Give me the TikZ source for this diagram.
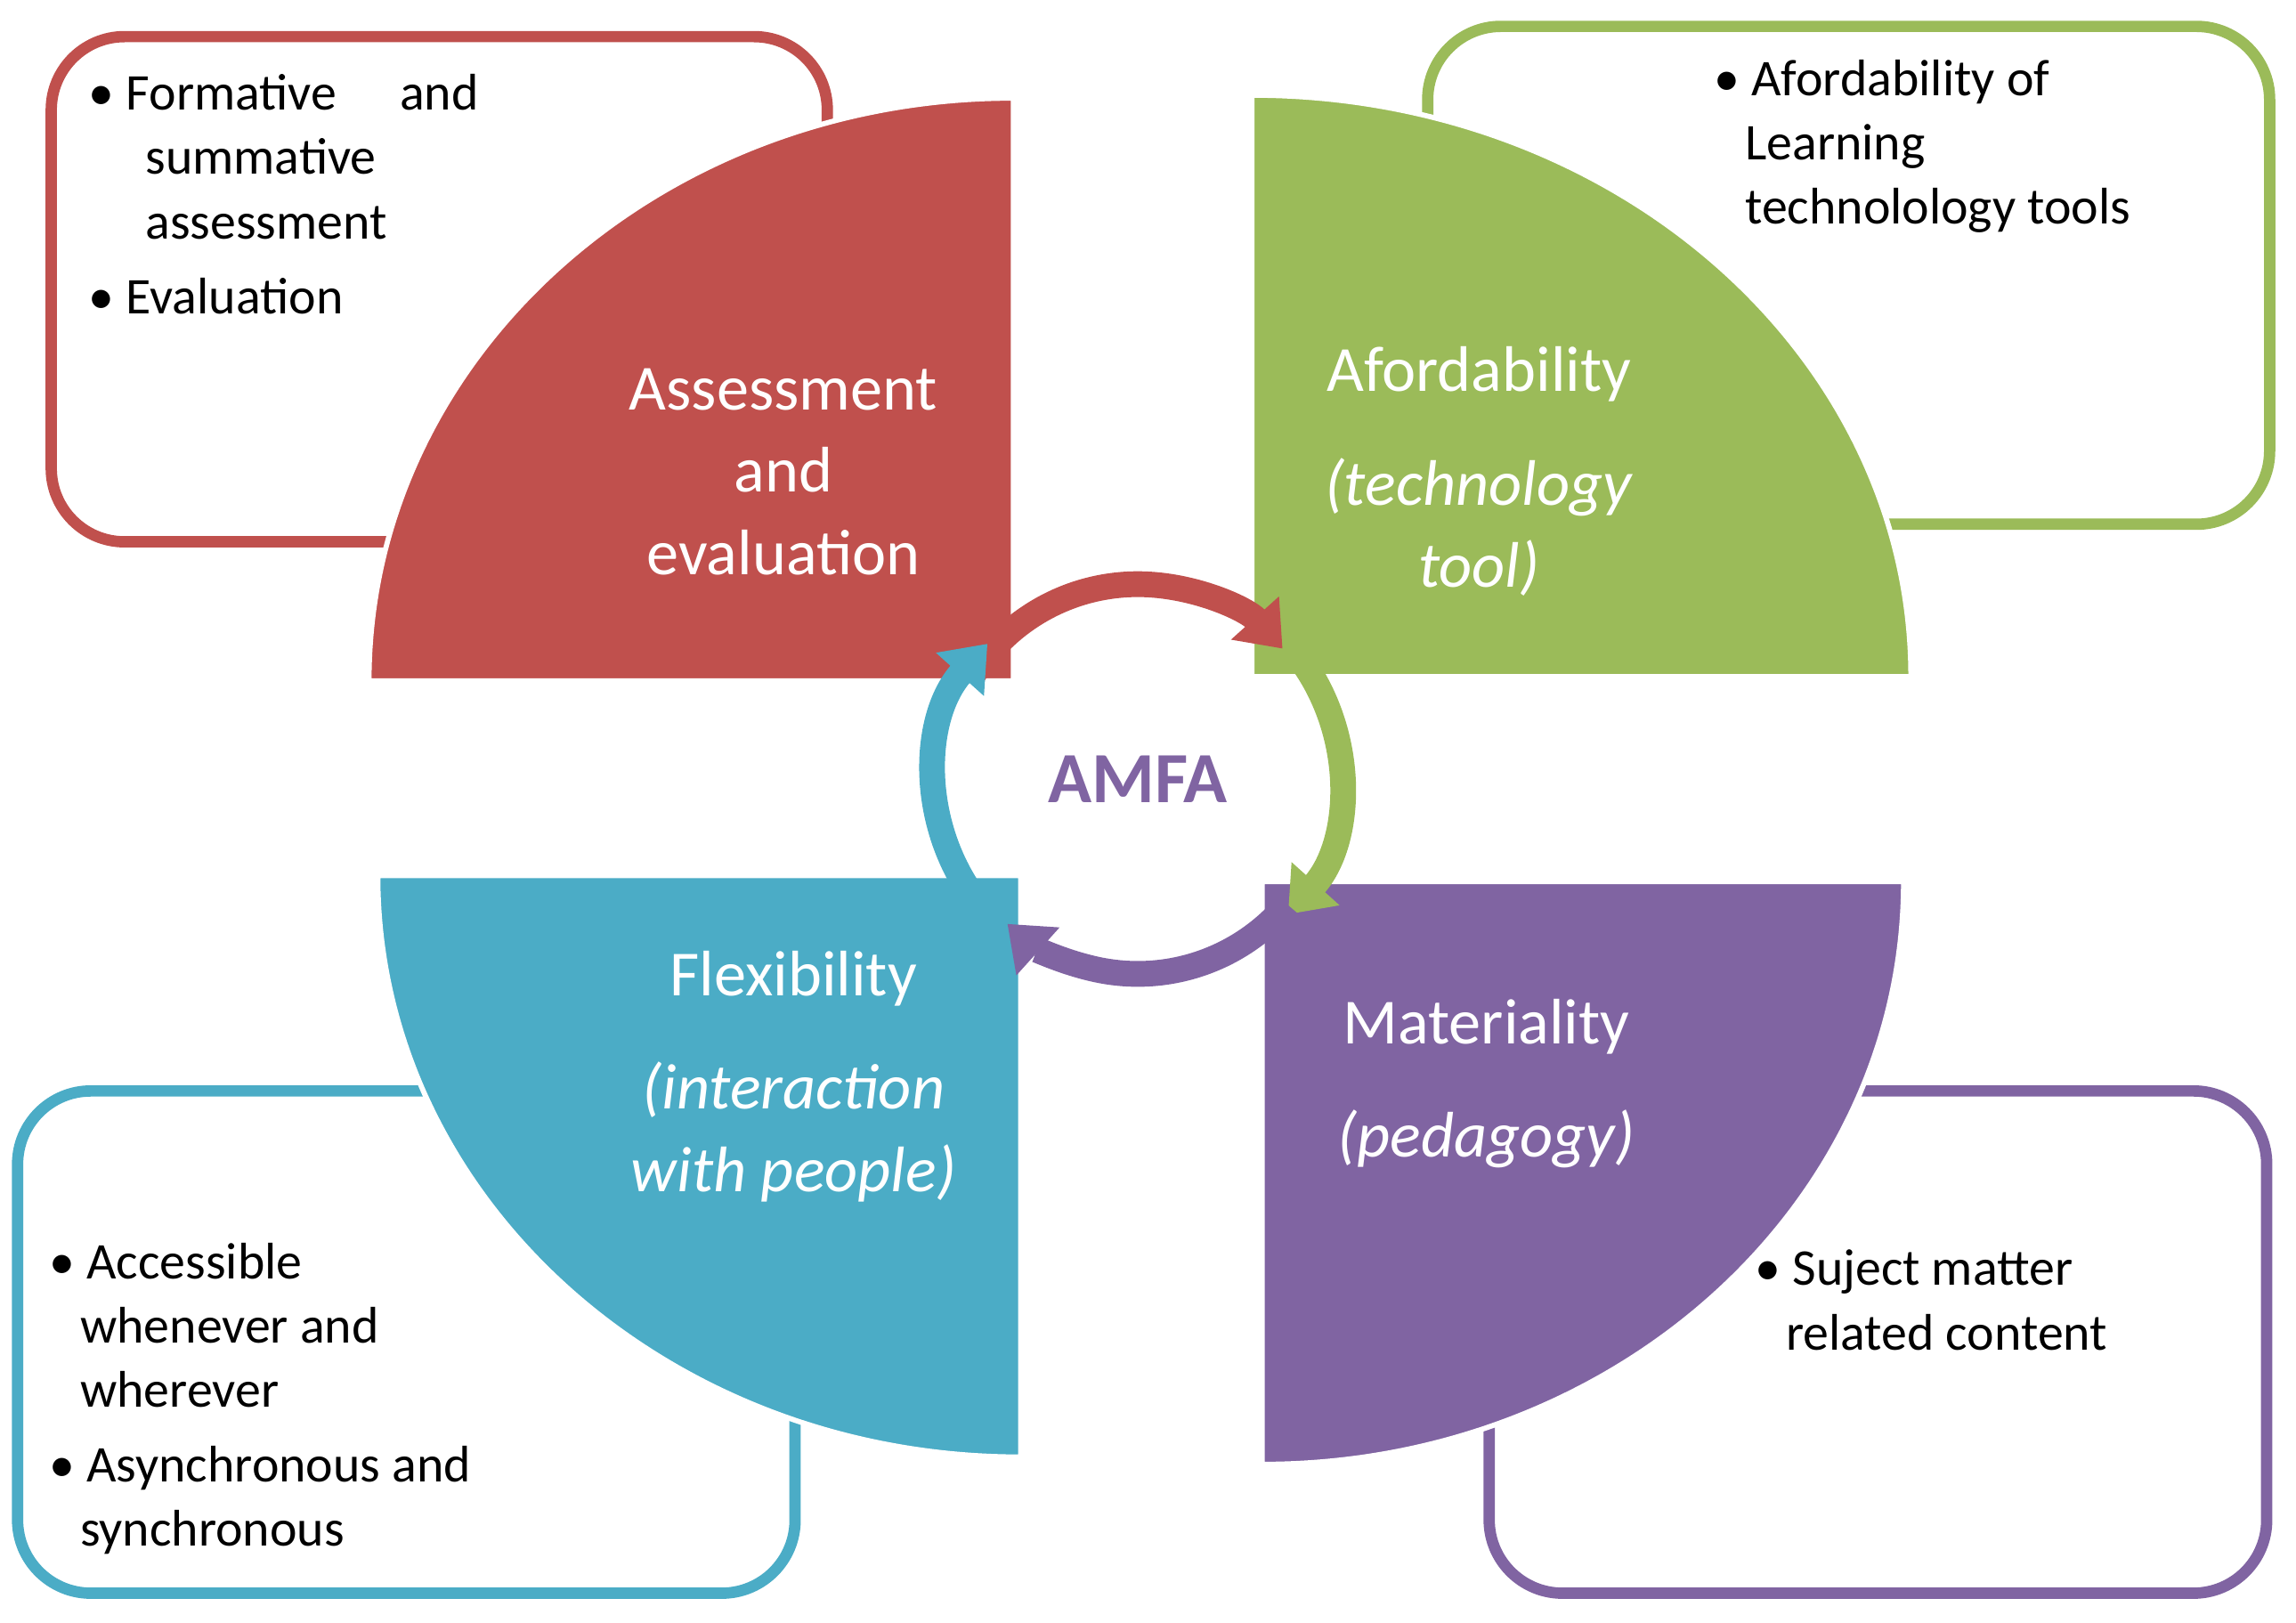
\documentclass[tikz,border=0pt]{standalone}
\usepackage{fontspec}
\setmainfont{Carlito}
\usetikzlibrary{arrows.meta}
\definecolor{cR}{HTML}{C0504D}
\definecolor{cG}{HTML}{9BBB59}
\definecolor{cB}{HTML}{4BACC6}
\definecolor{cP}{HTML}{8064A2}
\begin{document}
\begin{tikzpicture}[x=0.01cm,y=-0.01cm,
 box/.style={draw=#1,line width=2.2pt,rounded corners=0.5cm,fill=white},
 quarter/.style={fill=#1,draw=white,line width=1pt},
 btxt/.style={font=\fontsize{10}{12.5}\selectfont,align=left,anchor=north west,inner sep=0pt},
 title/.style={text=white,font=\fontsize{12.5}{16}\selectfont,align=center},
 cyc/.style={#1,line width=5pt,-{Triangle[length=8pt,width=12pt]}}]
\useasboundingbox (0,0) rectangle (1568,1108);
% boxes
\draw[box=cR] (35,25) rectangle (565,370);
\draw[box=cG] (975,18) rectangle (1550,358);
\draw[box=cB] (12,745) rectangle (543,1088);
\draw[box=cP] (1017,745) rectangle (1548,1088);
% quarters
\path[quarter=cR] (692,465) -- (692,67) arc[start angle=90,end angle=180,x radius=440,y radius=-398] -- cycle;
\path[quarter=cG] (855,462) -- (855,65) arc[start angle=90,end angle=0,x radius=450,y radius=-397] -- cycle;
\path[quarter=cB] (697,598) -- (697,995) arc[start angle=270,end angle=180,x radius=439,y radius=-397] -- cycle;
\path[quarter=cP] (862,602) -- (862,1000) arc[start angle=270,end angle=360,x radius=438,y radius=-398] -- cycle;
% texts
\node[btxt] (t1) at (60,50) {\textbullet\ Formative\quad\ and\\\hspace*{1.1em}summative\\\hspace*{1.1em}assessment\\[2pt]\textbullet\ Evaluation};
\node[btxt] (t2) at (1170,40) {\textbullet\ Afordability of\\\hspace*{0.6em}Learning\\\hspace*{0.6em}technolology tools};
\node[btxt] (t3) at (33,848) {\textbullet\ Accessible\\\hspace*{0.6em}whenever and\\\hspace*{0.6em}wherever\\[2pt]\textbullet\ Asynchronous and\\\hspace*{0.6em}synchronous};
\node[btxt] (t4) at (1198,853) {\textbullet\ Suject matter\\\hspace*{0.6em}related content};
\node[title] (q1) at (535,322) {Assessment\\and\\evaluation};
\node[title] (q2) at (1010,322) {Afordability\\[6pt]\textit{(technology}\\\textit{tool)}};
\node[title] (q3) at (542,735) {Flexibility\\[6pt]\textit{(interaction}\\\textit{with people)}};
\node[title] (q4) at (1015,740) {Materiality\\[6pt]\textit{(pedagogy)}};
% center
\coordinate (c) at (777,532);
\node[text=cP,font=\fontsize{14}{16}\selectfont\bfseries] (amfa) at (c) {AMFA};
\draw[cyc=cR] ([shift={(148:1.33cm)}]c) arc[start angle=148,end angle=42,radius=1.33cm];
\draw[cyc=cG] ([shift={(38:1.38cm)}]c) arc[start angle=38,end angle=-42,radius=1.38cm];
\draw[cyc=cP] ([shift={(-40:1.33cm)}]c) arc[start angle=-40,end angle=-132,radius=1.33cm];
\draw[cyc=cB] ([shift={(-140:1.38cm)}]c) arc[start angle=-140,end angle=-222,radius=1.38cm];
\end{tikzpicture}
\end{document}
